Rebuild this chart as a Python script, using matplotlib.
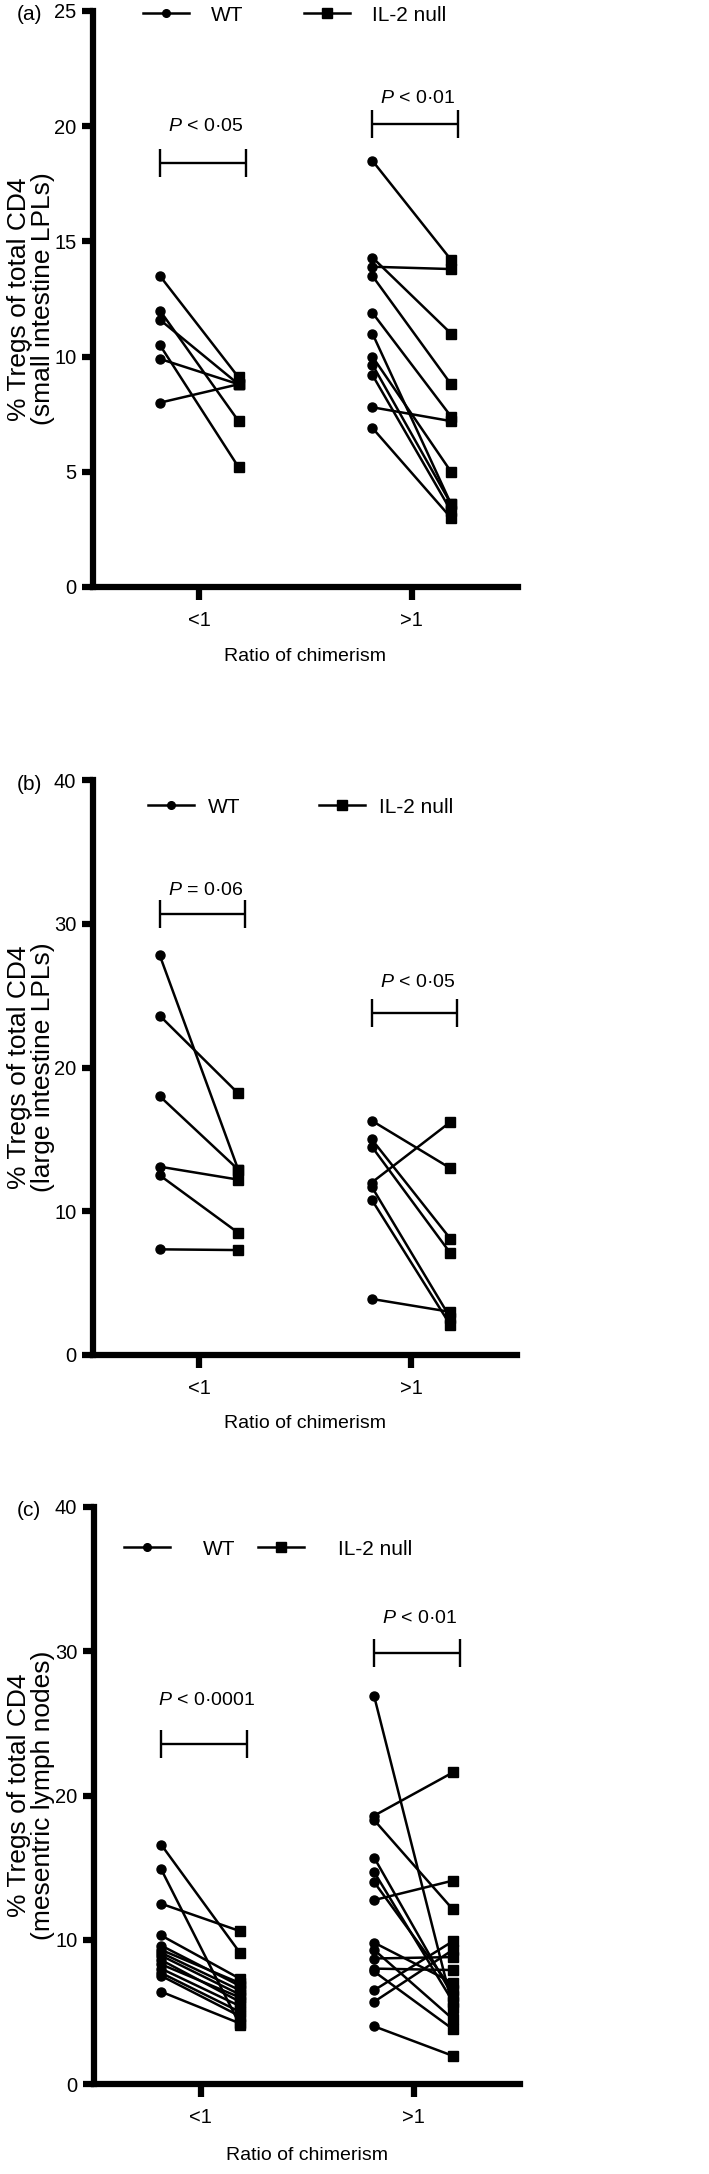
import matplotlib
matplotlib.use("Agg")
import matplotlib.pyplot as plt
from matplotlib import font_manager
from matplotlib.lines import Line2D

groups = ["<1", ">1"]
series = ["WT", "IL-2 null"]

# (a) small intestine LPLs, pairs WT -> IL-2 null
a_lt1_wt = [13.5, 12.0, 11.6, 10.5, 9.9, 8.0]
a_lt1_il2 = [9.1, 7.2, 8.8, 5.2, 8.8, 8.8]
a_gt1_wt = [18.5, 14.3, 13.9, 13.5, 11.9, 11.0, 10.0, 9.65, 9.2, 7.8, 6.9]
a_gt1_il2 = [14.2, 11.0, 13.8, 8.8, 7.4, 3.6, 5.0, 3.6, 3.3, 7.2, 3.0]

# (b) large intestine LPLs
b_lt1_wt = [27.8, 23.6, 18.0, 13.1, 12.5, 7.35]
b_lt1_il2 = [12.9, 18.2, 12.9, 12.2, 8.5, 7.3]
b_gt1_wt = [16.3, 15.0, 14.5, 12.0, 11.7, 10.8, 3.9]
b_gt1_il2 = [13.0, 8.1, 7.1, 16.2, 2.6, 2.1, 3.0]

# (c) mesentric lymph nodes
c_lt1_wt = [16.6, 14.9, 12.5, 10.3, 9.6, 9.3, 9.1, 8.9, 8.6, 8.3, 8.0, 7.7, 7.5, 6.4]
c_lt1_il2 = [9.1, 4.1, 10.6, 7.3, 6.8, 7.0, 6.5, 6.2, 5.7, 6.0, 5.4, 5.0, 4.7, 4.2]
c_gt1_wt = [26.9, 18.6, 18.3, 15.7, 14.7, 14.0, 12.75, 9.8, 9.3, 8.7, 8.0, 7.8, 6.5, 5.7, 4.0]
c_gt1_il2 = [5.3, 21.6, 12.1, 6.1, 5.7, 6.5, 14.1, 7.0, 4.5, 8.8, 7.9, 3.8, 9.9, 9.3, 1.95]

# significance labels per group
a_pvals = ["$P$ < 0·05", "$P$ < 0·01"]
b_pvals = ["$P$ = 0·06", "$P$ < 0·05"]
c_pvals = ["$P$ < 0·0001", "$P$ < 0·01"]

narrow = "Liberation Sans Narrow"
names = {f.name for f in font_manager.fontManager.ttflist}
if narrow not in names:
    narrow = "Liberation Sans"

plt.rcParams["font.family"] = [narrow, "DejaVu Sans"]
plt.rcParams["mathtext.fontset"] = "custom"
plt.rcParams["mathtext.it"] = narrow + ":italic"
plt.rcParams["mathtext.rm"] = narrow

W, H = 709, 2174
fig = plt.figure(figsize=(W / 100, H / 100), dpi=100)


def panel(box, wt, il2, ymax, ystep, sub, tag, pvals, brk_y, txt_y, leg_xy, leg_pad, leg_sp, xpad):
    l, r, t, b = box
    ax = fig.add_axes([l / W, (H - b) / H, (r - l) / W, (b - t) / H])
    off = 0.185
    for g in range(2):
        for w, m in zip(wt[g], il2[g]):
            ax.plot([g - off, g + off], [w, m], color="k", lw=1.8, zorder=2)
        ax.plot([g - off] * len(wt[g]), wt[g], "o", ms=6.5, color="k", zorder=3)
        ax.plot([g + off] * len(il2[g]), il2[g], "s", ms=7.5, color="k", zorder=3)
        ax.errorbar(g + 0.017, brk_y[g], xerr=0.202, fmt="none", ecolor="k",
                    elinewidth=1.7, capsize=10, capthick=1.7)
        ax.text(g + 0.03, txt_y[g], pvals[g], ha="center", va="center", fontsize=14)

    ax.set_xlim(-0.5, 1.5)
    ax.set_ylim(0, ymax)
    ax.set_yticks(range(0, ymax + 1, ystep))
    ax.set_xticks([0, 1], groups)
    for s in ["top", "right"]:
        ax.spines[s].set_visible(False)
    for s in ["left", "bottom"]:
        ax.spines[s].set_linewidth(4.5)
    ax.tick_params(axis="y", width=4.5, length=8, pad=4, labelsize=14.5)
    ax.tick_params(axis="x", width=4.5, length=9, pad=8.5, labelsize=14.5)
    ax.set_xlabel("Ratio of chimerism", fontsize=14, labelpad=xpad)
    ax.set_ylabel("% Tregs of total CD4\n" + sub, fontsize=19,
                  family="Liberation Sans", linespacing=1.0)
    ax.yaxis.set_label_coords((55 - l) / (r - l), 0.5)

    h = [Line2D([], [], color="k", lw=1.8, marker="o", ms=5.5),
         Line2D([], [], color="k", lw=1.8, marker="s", ms=7)]
    ax.legend(h, series, loc="center left", bbox_to_anchor=leg_xy, ncol=2,
              frameon=False, fontsize=15, handlelength=2.2, numpoints=1,
              handletextpad=leg_pad, columnspacing=leg_sp, borderpad=0,
              borderaxespad=0)
    fig.text(29 / W, 1 - (t + 4) / H, tag, ha="center", va="center", fontsize=15)
    return ax


panel((93, 518, 11, 587), [a_lt1_wt, a_gt1_wt], [a_lt1_il2, a_gt1_il2], 25, 5,
      "(small intestine LPLs)", "(a)", a_pvals, [18.4, 20.1], [20.0, 21.2],
      (0.118, 0.993), 1.06, 2.9, 13)
panel((93, 517, 780, 1355), [b_lt1_wt, b_gt1_wt], [b_lt1_il2, b_gt1_il2], 40, 10,
      "(large intestine LPLs)", "(b)", b_pvals, [30.7, 23.8], [32.3, 25.9],
      (0.129, 0.953), 0.67, 3.8, 12)
panel((94, 520, 1507, 2084), [c_lt1_wt, c_gt1_wt], [c_lt1_il2, c_gt1_il2], 40, 10,
      "(mesentric lymph nodes)", "(c)", c_pvals, [23.6, 29.9], [26.6, 32.3],
      (0.07, 0.927), 1.6, 1.1, 14)

fig.savefig("out.png", dpi=100)
